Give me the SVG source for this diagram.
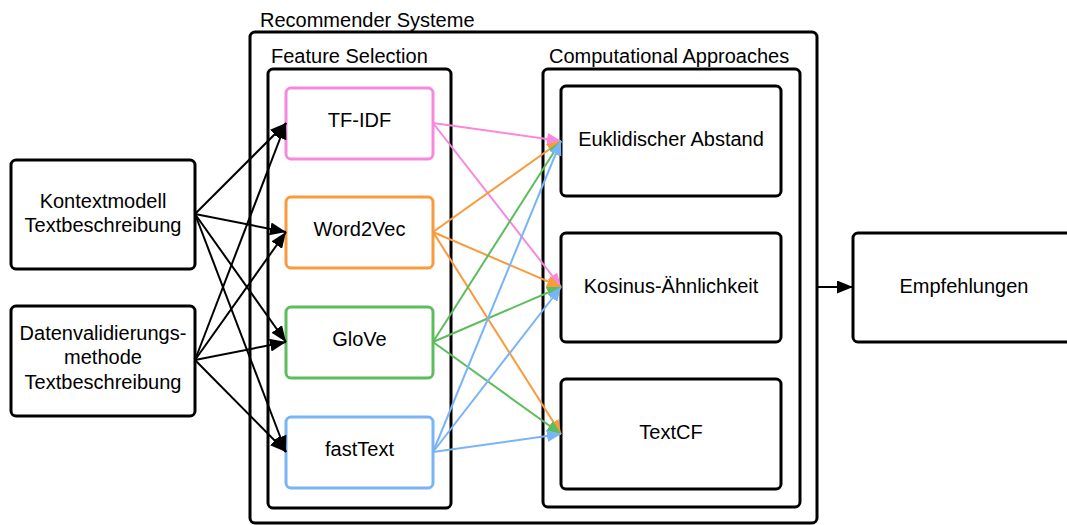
<svg xmlns="http://www.w3.org/2000/svg" width="1067" height="525" viewBox="0 0 1067 525">
  <style>
    text { font-family: "Liberation Sans", Arial, sans-serif; font-size: 20px; fill: #000; }
    .mid { text-anchor: middle; }
    .box { fill: #fff; stroke: #000; stroke-width: 3; }
    .frame { fill: none; stroke: #000; stroke-width: 3; }
    .feat { fill: #fff; stroke-width: 3; }
    .blk { stroke: #000; stroke-width: 2; fill: none; }
    .pink { stroke: #f888dd; stroke-width: 2; fill: none; }
    .orange { stroke: #f99a3c; stroke-width: 2; fill: none; }
    .green { stroke: #5cbd5e; stroke-width: 2; fill: none; }
    .blue { stroke: #79b4f7; stroke-width: 2; fill: none; }
  </style>
  <defs>
    <marker id="ah-black" markerUnits="userSpaceOnUse" markerWidth="17" markerHeight="13" refX="16" refY="6.5" orient="auto">
      <path d="M0,0 L16,6.5 L0,13 z" fill="#000"/>
    </marker>
    <marker id="ah-pink" markerUnits="userSpaceOnUse" markerWidth="15" markerHeight="12" refX="14" refY="6" orient="auto">
      <path d="M0,0 L14,6 L0,12 z" fill="#f888dd"/>
    </marker>
    <marker id="ah-orange" markerUnits="userSpaceOnUse" markerWidth="15" markerHeight="12" refX="14" refY="6" orient="auto">
      <path d="M0,0 L14,6 L0,12 z" fill="#f99a3c"/>
    </marker>
    <marker id="ah-green" markerUnits="userSpaceOnUse" markerWidth="15" markerHeight="12" refX="14" refY="6" orient="auto">
      <path d="M0,0 L14,6 L0,12 z" fill="#5cbd5e"/>
    </marker>
    <marker id="ah-blue" markerUnits="userSpaceOnUse" markerWidth="15" markerHeight="12" refX="14" refY="6" orient="auto">
      <path d="M0,0 L14,6 L0,12 z" fill="#79b4f7"/>
    </marker>
  </defs>

  <rect width="1067" height="525" fill="#fff"/>

  <!-- Containers -->
  <g id="recommender-systeme">
    <rect class="frame" x="250" y="32" width="567" height="491" rx="5"/>
    <text x="260" y="27">Recommender Systeme</text>
  </g>
  <g id="feature-selection">
    <rect class="frame" x="268" y="69" width="183" height="439" rx="5"/>
    <text x="271" y="63">Feature Selection</text>
  </g>
  <g id="computational-approaches">
    <rect class="frame" x="543" y="69" width="257" height="438" rx="5"/>
    <text x="549" y="63">Computational Approaches</text>
  </g>

  <!-- Inputs -->
  <g id="kontextmodell">
    <rect class="box" x="11" y="160" width="184" height="109" rx="5"/>
    <text class="mid" x="103" y="208">Kontextmodell</text>
    <text class="mid" x="103" y="232">Textbeschreibung</text>
  </g>
  <g id="datenvalidierung">
    <rect class="box" x="11" y="306" width="184" height="110" rx="5"/>
    <text class="mid" x="103" y="340">Datenvalidierungs-</text>
    <text class="mid" x="103" y="364">methode</text>
    <text class="mid" x="103" y="389">Textbeschreibung</text>
  </g>

  <!-- Feature extraction methods -->
  <g id="tf-idf">
    <rect class="feat" x="286" y="88" width="147" height="71" rx="5" stroke="#f888dd"/>
    <text class="mid" x="359.5" y="127">TF-IDF</text>
  </g>
  <g id="word2vec">
    <rect class="feat" x="286" y="197" width="147" height="71" rx="5" stroke="#f99a3c"/>
    <text class="mid" x="359.5" y="236">Word2Vec</text>
  </g>
  <g id="glove">
    <rect class="feat" x="286" y="307" width="147" height="71" rx="5" stroke="#5cbd5e"/>
    <text class="mid" x="359.5" y="346">GloVe</text>
  </g>
  <g id="fasttext">
    <rect class="feat" x="286" y="417" width="147" height="71" rx="5" stroke="#79b4f7"/>
    <text class="mid" x="359.5" y="456">fastText</text>
  </g>

  <!-- Similarity approaches -->
  <g id="euklidischer-abstand">
    <rect class="box" x="561" y="86" width="220" height="110" rx="5"/>
    <text class="mid" x="671" y="146">Euklidischer Abstand</text>
  </g>
  <g id="kosinus">
    <rect class="box" x="561" y="233" width="220" height="109" rx="5"/>
    <text class="mid" x="671" y="293">Kosinus-Ähnlichkeit</text>
  </g>
  <g id="textcf">
    <rect class="box" x="561" y="379" width="220" height="110" rx="5"/>
    <text class="mid" x="671" y="439">TextCF</text>
  </g>

  <!-- Output -->
  <g id="empfehlungen">
    <rect class="box" x="853" y="233" width="222" height="109" rx="5"/>
    <text class="mid" x="964" y="293">Empfehlungen</text>
  </g>

  <!-- Connectors -->
  <g id="connectors">
    <g marker-end="url(#ah-black)">
      <line class="blk" x1="195" y1="214" x2="286" y2="123"/>
      <line class="blk" x1="195" y1="214" x2="286" y2="232"/>
      <line class="blk" x1="195" y1="214" x2="286" y2="342"/>
      <line class="blk" x1="195" y1="214" x2="286" y2="452"/>
      <line class="blk" x1="195" y1="360" x2="286" y2="123"/>
      <line class="blk" x1="195" y1="360" x2="286" y2="232"/>
      <line class="blk" x1="195" y1="360" x2="286" y2="342"/>
      <line class="blk" x1="195" y1="360" x2="286" y2="452"/>
      <line class="blk" x1="817" y1="287" x2="853" y2="287"/>
    </g>
    <g marker-end="url(#ah-pink)">
      <line class="pink" x1="433" y1="123" x2="561" y2="141"/>
      <line class="pink" x1="433" y1="123" x2="561" y2="287"/>
    </g>
    <g marker-end="url(#ah-orange)">
      <line class="orange" x1="433" y1="232" x2="561" y2="141"/>
      <line class="orange" x1="433" y1="232" x2="561" y2="287"/>
      <line class="orange" x1="433" y1="232" x2="561" y2="434"/>
    </g>
    <g marker-end="url(#ah-green)">
      <line class="green" x1="433" y1="342" x2="561" y2="141"/>
      <line class="green" x1="433" y1="342" x2="561" y2="287"/>
      <line class="green" x1="433" y1="342" x2="561" y2="434"/>
    </g>
    <g marker-end="url(#ah-blue)">
      <line class="blue" x1="433" y1="452" x2="561" y2="141"/>
      <line class="blue" x1="433" y1="452" x2="561" y2="287"/>
      <line class="blue" x1="433" y1="452" x2="561" y2="434"/>
    </g>
  </g>
</svg>
